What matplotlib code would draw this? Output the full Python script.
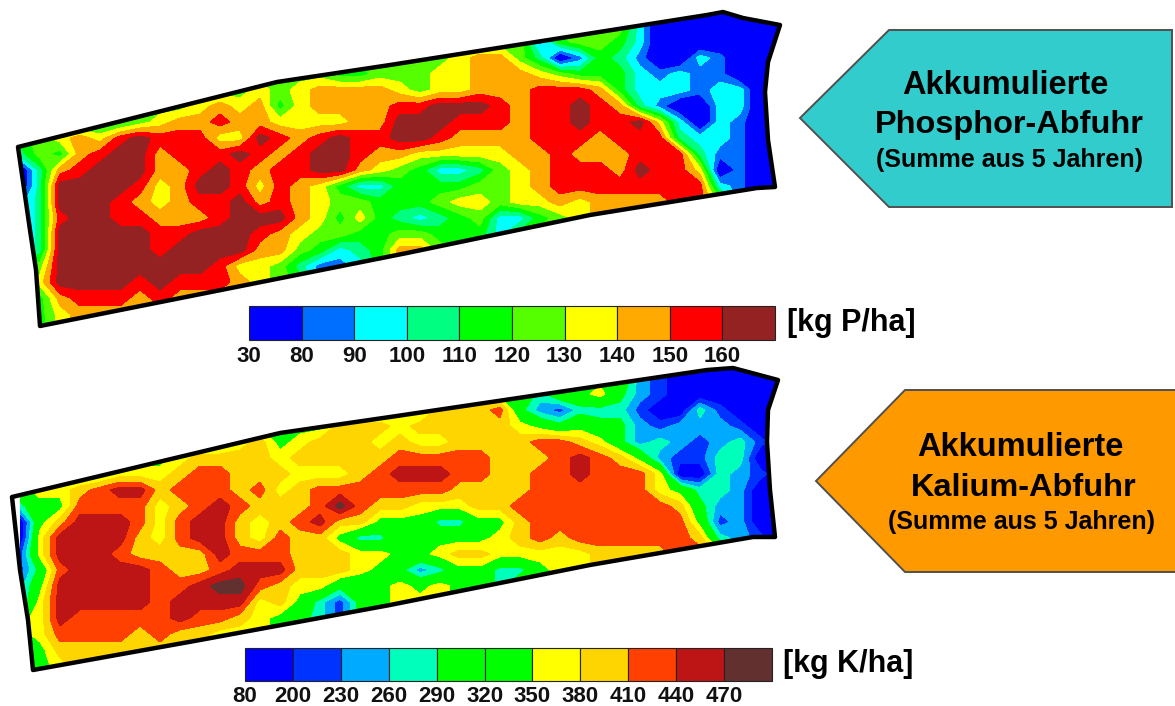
import numpy as np
import matplotlib
matplotlib.use("Agg")
import matplotlib.pyplot as plt
from matplotlib.patches import Polygon, Rectangle

plt.rcParams['font.family'] = ['Liberation Sans', 'DejaVu Sans']

# sampling columns (image pixels): one character per column in each row below
col_x = list(range(20, 781, 20))

# ---- phosphorus map: class of the map at each sample
p_row_y = list(range(10, 331, 16))
p_classes = [
    "5555555555 5555555555 5555555555 520000000",
    "5555555555 5555555555 5555555555 520000000",
    "5555555555 5555555555 5555551455 420000000",
    "5555555555 5555555555 5567753014 310021000",
    "5555555555 5555554455 5667776544 421211000",
    "5555555555 5565677776 5667778887 422212200",
    "5555555556 7674677778 8999878898 731002200",
    "4444445677 8776666779 9988878898 896202100",
    "4567689888 6698789889 9877778887 888322100",
    "3547899788 8987899877 6666677877 788831100",
    "0378999778 9878899765 4223567888 798860100",
    "0399998679 9868764224 4445567888 888882100",
    "1399987678 8978765544 4566566767 777885100",
    "1389988777 8999764643 2345224567 777775100",
    "1399999889 9987655445 5444245677 777775100",
    "1399999899 9977542347 7544245677 777775100",
    "4599999999 8665311247 7544245677 777775100",
    "4699998988 8765411247 7544245677 777775100",
    "4478887877 7765411247 7544245677 777775100",
    "4467777777 7765411247 7544245677 777775100",
    "4467777777 7765411247 7544245677 777775100",
]
p_class_values = [65, 85, 95, 105, 115, 125, 135, 145, 155, 165]
p_levels = [30, 80, 90, 100, 110, 120, 130, 140, 150, 160, 200]
p_colors = ['#0000ff', '#006eff', '#00ffff', '#00ff80', '#00ff00', '#55ff00', '#ffff00', '#ffaa00', '#ff0000', '#942222']
p_ticks = ['30', '80', '90', '100', '110', '120', '130', '140', '150', '160']
p_outline = [(18,147),(277,82),(390,65),(707,15),(723,12),(743,18),(780,25),(768,62),(765,92),(768,140),
             (775,187),(757,188),(590,215),(407,253),(40,326),(36,270),(30,230)]

# ---- potassium map: class of the map at each sample
k_row_y = list(range(362, 683, 16))
k_classes = [
    "5555555555 5555555555 5555555555 521000000",
    "5555555555 5555555555 5555555555 521000000",
    "5555555555 5555555555 5555553556 421000000",
    "5555555555 5555555555 5777842133 310031000",
    "5555555555 5555557776 7777765454 421222100",
    "5555555555 5675677767 6677778876 423212310",
    "5555555567 7776777778 8888777898 752113300",
    "5555566678 8777666789 9988778898 886003210",
    "5667899788 8786788888 8877778888 886533200",
    "3558888678 987778a877 6667788888 888742200",
    "0579998689 9767897755 5335578888 888851200",
    "0699997689 9768775335 5555678788 888873210",
    "1699987777 9888777665 5677666667 777886210",
    "1489999877 8999777654 2355335667 777886210",
    "2599999889 aa87664456 5655355667 777886210",
    "2699999899 9967531456 6655355667 777886210",
    "5698888898 8765431456 6655355667 777886210",
    "5688887877 6665431456 6655355667 777886210",
    "5577777777 6665431456 6655355667 777886210",
    "5567777777 6665431456 6655355667 777886210",
    "5567777777 6665431456 6655355667 777886210",
]
k_class_values = [170, 215, 245, 275, 305, 335, 365, 395, 425, 455, 485]
k_levels = [80, 200, 230, 260, 290, 320, 350, 380, 410, 440, 470, 520]
k_colors = ['#0000ff', '#0033ff', '#00aaff', '#00ffbb', '#00ff00', '#00ff00', '#ffff00', '#ffd500', '#ff4000', '#bd1515', '#633030']
k_ticks = ['80', '200', '230', '260', '290', '320', '350', '380', '410', '440', '470']
k_outline = [(12,497),(280,433),(390,417),(707,370),(733,368),(778,380),(768,410),(767,442),(770,490),
             (775,537),(753,537),(590,565),(390,605),(200,640),(33,670),(28,620),(20,570)]

fig = plt.figure(figsize=(11.75, 7.06), dpi=100)
ax = fig.add_axes([0, 0, 1, 1])
ax.set_xlim(0, 1175)
ax.set_ylim(706, 0)
ax.axis('off')


def draw_map(classes, class_values, row_y, levels, colors, outline):
    cv = np.array(class_values, dtype=float)
    rows = [[int(ch, 16) for ch in r.replace(' ', '')] for r in classes]
    z = cv[np.array(rows)]
    cs = ax.contourf(col_x, row_y, z, levels=levels, colors=colors, zorder=1, antialiased=False)
    clip = Polygon(outline, closed=True, transform=ax.transData, fc='none', ec='none')
    ax.add_patch(clip)
    cs.set_clip_path(clip)
    ax.add_patch(Polygon(outline, closed=True, fc='none', ec='black', lw=3.2, joinstyle='round', zorder=3))


def draw_scale(colors, ticks, x0, x1, y0, y1, label_y, unit, unit_x, unit_y):
    w = (x1 - x0) / len(colors)
    for i, (c, t) in enumerate(zip(colors, ticks)):
        ax.add_patch(Rectangle((x0 + i * w, y0), w, y1 - y0, fc=c, ec='#222222', lw=0.8, zorder=2))
        ax.text(x0 + i * w, label_y, t, ha='center', va='center', fontsize=16, fontweight='bold', color='#111111')
    ax.text(unit_x, unit_y, unit, ha='left', va='center', fontsize=22, fontweight='bold', color='black')


def draw_arrow(pts, color, lines):
    ax.add_patch(Polygon(pts, closed=True, fc=color, ec='#505050', lw=1.4, zorder=2))
    for (txt, cx, y, size) in lines:
        ax.text(cx, y, txt, ha='center', va='center', fontsize=size, fontweight='bold', color='black', zorder=4)


draw_map(p_classes, p_class_values, p_row_y, p_levels, p_colors, p_outline)
draw_map(k_classes, k_class_values, k_row_y, k_levels, k_colors, k_outline)

draw_scale(p_colors, p_ticks, 249, 775, 306, 340, 357, '[kg P/ha]', 787, 323)
draw_scale(k_colors, k_ticks, 245, 772, 648, 681, 697, '[kg K/ha]', 783, 664)

draw_arrow([(800,118),(889,30),(1172,30),(1172,207),(889,207)], '#33cccc',
           [('Akkumulierte', 1005, 86, 23.5), ('Phosphor-Abfuhr', 1009, 125, 23.4), ('(Summe aus 5 Jahren)', 1009, 160, 18)])
draw_arrow([(816,481),(905,390),(1180,390),(1180,572),(905,572)], '#ff9900',
           [('Akkumulierte', 1020, 448, 23.5), ('Kalium-Abfuhr', 1024, 488, 23.4), ('(Summe aus 5 Jahren)', 1022, 522, 18)])

fig.savefig('out.png', dpi=100)
